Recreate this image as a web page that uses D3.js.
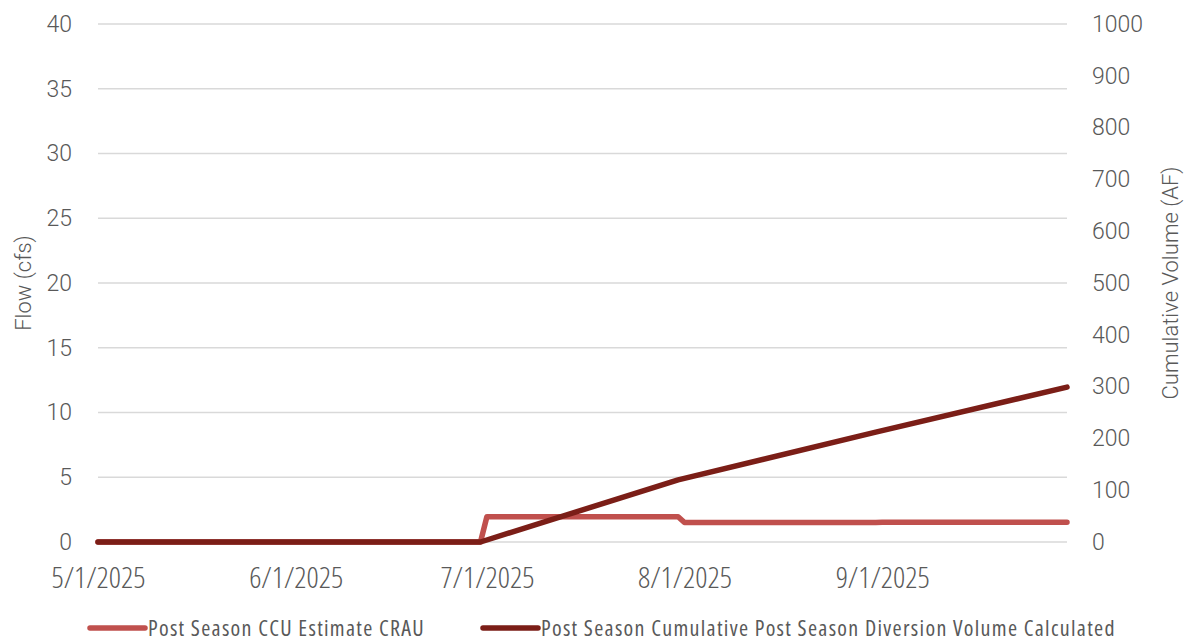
<!DOCTYPE html>
<html>
<head>
<meta charset="utf-8">
<script src="https://cdn.jsdelivr.net/npm/d3@7"></script>
<style>
  html, body { margin: 0; padding: 0; background: #fff; }
  svg { display: block; }
  .cond { font-family: "Open Sans", Roboto, sans-serif; font-stretch: 75%; }
</style>
</head>
<body>
<svg id="chart" width="1188" height="641"></svg>
<script>
// Daily flow estimate (cfs) at its break points
const flowDates = ["2025-05-01", "2025-06-30", "2025-07-01", "2025-07-31", "2025-08-01", "2025-08-31", "2025-09-01", "2025-09-30"];
const flowCfs   = [0, 0, 1.95, 1.95, 1.5, 1.5, 1.52, 1.52];

// Cumulative diversion volume (AF)
const volDates = ["2025-05-01", "2025-06-30", "2025-07-31", "2025-08-31", "2025-09-30"];
const volAF    = [0, 0, 120, 212, 299];

const leftTicks  = [0, 5, 10, 15, 20, 25, 30, 35, 40];
const rightTicks = [0, 100, 200, 300, 400, 500, 600, 700, 800, 900, 1000];
const xTickLabels = ["2025-05-01", "2025-06-01", "2025-07-01", "2025-08-01", "2025-09-01"];

const seriesNames = ["Post Season CCU Estimate CRAU", "Post Season Cumulative Post Season Diversion Volume Calculated"];
const seriesColors = ["#C0504D", "#7B1E17"];

const parse = d3.utcParse("%Y-%m-%d");
const fmt = d3.utcFormat("%-m/%-d/%Y");

const svg = d3.select("#chart");
const plotLeft = 98, plotRight = 1067, plotTop = 24, plotBottom = 542;

const x = d3.scaleUtc()
  .domain([parse("2025-05-01"), parse("2025-09-30")])
  .range([plotLeft, plotRight]);
const yL = d3.scaleLinear().domain([0, 40]).range([plotBottom, plotTop]);
const yR = d3.scaleLinear().domain([0, 1000]).range([plotBottom, plotTop]);

const textColor = "#595959";

// Horizontal gridlines
svg.append("g")
  .selectAll("line")
  .data(leftTicks)
  .join("line")
  .attr("x1", plotLeft).attr("x2", plotRight)
  .attr("y1", d => yL(d)).attr("y2", d => yL(d))
  .attr("stroke", "#D9D9D9").attr("stroke-width", 1.5);

// Left axis
const gL = svg.append("g")
  .attr("transform", `translate(${plotLeft - 26},0)`)
  .call(d3.axisLeft(yL).tickValues(leftTicks).tickFormat(d3.format("d")).tickSize(0).tickPadding(0));
gL.select(".domain").remove();
gL.selectAll("text")
  .attr("fill", textColor)
  .style("font-family", "Roboto, sans-serif")
  .style("font-weight", 300)
  .style("font-size", "23px");

// Right axis
const gR = svg.append("g")
  .attr("transform", `translate(${plotRight + 25},0)`)
  .call(d3.axisRight(yR).tickValues(rightTicks).tickFormat(d3.format("d")).tickSize(0).tickPadding(0));
gR.select(".domain").remove();
gR.selectAll("text")
  .attr("fill", textColor)
  .style("font-family", "Roboto, sans-serif")
  .style("font-weight", 300)
  .style("font-size", "23px");

// Bottom axis
const gX = svg.append("g")
  .attr("transform", `translate(0,${plotBottom + 35})`)
  .call(d3.axisBottom(x).tickValues(xTickLabels.map(parse)).tickFormat(fmt).tickSize(0).tickPadding(0));
gX.select(".domain").remove();
gX.selectAll("text")
  .attr("fill", textColor)
  .attr("dy", "0.35em")
  .attr("class", "cond")
  .style("font-weight", 300)
  .style("font-size", "30px");

// Axis titles
svg.append("text")
  .attr("transform", `translate(31,${(plotTop + plotBottom) / 2}) rotate(-90)`)
  .attr("text-anchor", "middle")
  .attr("fill", textColor)
  .style("font-family", "Roboto, sans-serif")
  .style("font-weight", 300)
  .style("font-size", "22px")
  .text("Flow (cfs)");

svg.append("text")
  .attr("transform", `translate(1178,${(plotTop + plotBottom) / 2}) rotate(-90)`)
  .attr("text-anchor", "middle")
  .attr("fill", textColor)
  .style("font-family", "Roboto, sans-serif")
  .style("font-weight", 300)
  .style("font-size", "22px")
  .text("Cumulative Volume (AF)");

// Series lines
const flowData = flowDates.map((d, i) => ({ date: parse(d), v: flowCfs[i] }));
const volData = volDates.map((d, i) => ({ date: parse(d), v: volAF[i] }));

svg.append("path")
  .datum(flowData)
  .attr("fill", "none")
  .attr("stroke", seriesColors[0])
  .attr("stroke-width", 5.5)
  .attr("stroke-linejoin", "round")
  .attr("stroke-linecap", "round")
  .attr("d", d3.line().x(d => x(d.date)).y(d => yL(d.v)));

svg.append("path")
  .datum(volData)
  .attr("fill", "none")
  .attr("stroke", seriesColors[1])
  .attr("stroke-width", 5.5)
  .attr("stroke-linejoin", "round")
  .attr("stroke-linecap", "round")
  .attr("d", d3.line().x(d => x(d.date)).y(d => yR(d.v)));

// Legend
const legendX = [90, 483];
const leg = svg.append("g").selectAll("g")
  .data(seriesNames)
  .join("g")
  .attr("transform", (d, i) => `translate(${legendX[i]},628)`);
leg.append("line")
  .attr("x1", 0).attr("x2", 55).attr("y1", 0).attr("y2", 0)
  .attr("stroke", (d, i) => seriesColors[i])
  .attr("stroke-width", 5.5)
  .attr("stroke-linecap", "round");
leg.append("text")
  .attr("x", 58).attr("y", 0).attr("dy", "0.35em")
  .attr("class", "cond")
  .attr("fill", textColor)
  .style("font-size", "22px")
  .style("letter-spacing", "1.3px")
  .text(d => d);
</script>
</body>
</html>
